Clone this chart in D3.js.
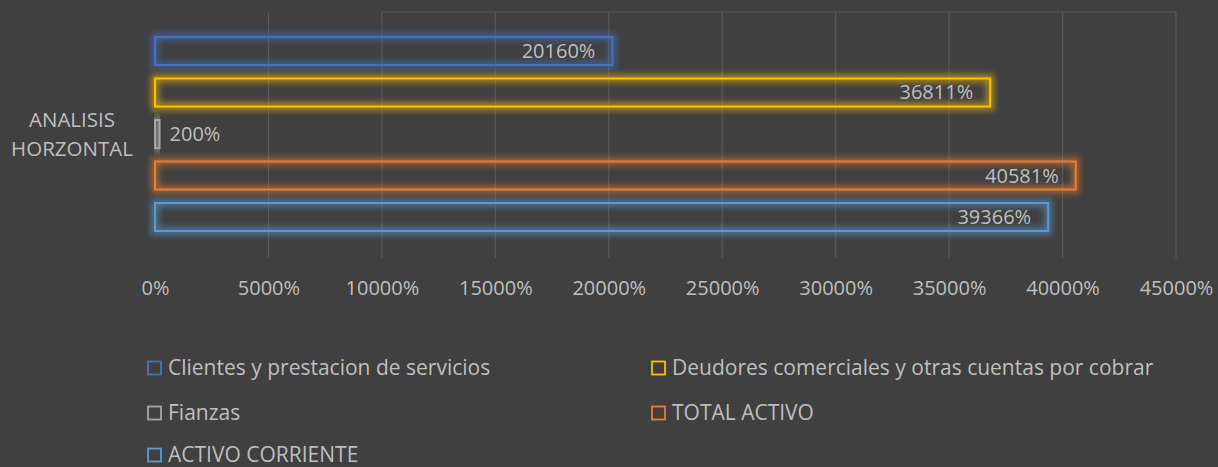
<!DOCTYPE html>
<html lang="es">
<head>
<meta charset="UTF-8">
<title>Analisis horizontal</title>
<script src="https://d3js.org/d3.v7.min.js"></script>
<style>
  html, body { margin: 0; padding: 0; background: #404040; }
  svg { display: block; font-family: "Open Sans", sans-serif; }
</style>
</head>
<body>
<div class="chart"></div>
<script>
// datos (de arriba hacia abajo)
const series = ['Clientes y prestacion de servicios', 'Deudores comerciales y otras cuentas por cobrar',
                'Fianzas', 'TOTAL ACTIVO', 'ACTIVO CORRIENTE']
const values = [20160, 36811, 200, 40581, 39366]
const colors = ['#4472C4', '#FFC000', '#A5A5A5', '#ED7D31', '#5B9BD5']
const categoryLines = ['ANALISIS', 'HORZONTAL']
const xTicks = [0, 5000, 10000, 15000, 20000, 25000, 30000, 35000, 40000, 45000]

const width = 1218, height = 467
const plotLeft = 155, plotRight = 1176, plotTop = 12, plotBottom = 258

const svg = d3.select('.chart').append('svg')
  .attr('width', width)
  .attr('height', height)

svg.append('rect').attr('width', width).attr('height', height).attr('fill', '#404040')

// glow
const defs = svg.append('defs')
defs.append('filter').attr('id', 'glow')
  .attr('x', '-5%').attr('y', '-60%').attr('width', '110%').attr('height', '220%')
  .append('feGaussianBlur').attr('stdDeviation', 3)

const x = d3.scaleLinear().domain([0, 45000]).range([plotLeft, plotRight])
const y = d3.scaleBand().domain(series).range([23.5, 244.5]).padding(0.325)

// grid
svg.append('g')
  .selectAll('line')
  .data(xTicks.slice(1))
  .join('line')
  .attr('x1', d => x(d)).attr('x2', d => x(d))
  .attr('y1', plotTop).attr('y2', plotBottom)
  .attr('stroke', '#595959').attr('stroke-width', 1.2)

svg.append('line')
  .attr('x1', x(10000)).attr('x2', plotRight)
  .attr('y1', plotTop).attr('y2', plotTop)
  .attr('stroke', '#595959').attr('stroke-width', 1.2)

// x axis
const xAxis = d3.axisBottom(x)
  .tickValues(xTicks)
  .tickSize(0)
  .tickPadding(0)
  .tickFormat(d => d + '%')

const xAxisGroup = svg.append('g')
  .attr('transform', `translate(0,${plotBottom + 37})`)
  .call(xAxis)
xAxisGroup.select('.domain').remove()
xAxisGroup.selectAll('text')
  .attr('dy', 0)
  .attr('fill', '#bfbfbf')
  .style('font-size', '20px')
  .style('font-family', '"Open Sans", sans-serif')

// etiqueta de categoria
svg.append('text')
  .attr('text-anchor', 'middle')
  .attr('fill', '#bfbfbf')
  .style('font-size', '20.5px')
  .selectAll('tspan')
  .data(categoryLines)
  .join('tspan')
  .attr('x', 72)
  .attr('y', (d, i) => 127 + i * 29)
  .text(d => d)

// barras
const bars = svg.append('g')
  .selectAll('g')
  .data(series)
  .join('g')

bars.append('rect')
  .attr('x', x(0))
  .attr('y', d => y(d))
  .attr('width', (d, i) => x(values[i]) - x(0))
  .attr('height', y.bandwidth())
  .attr('fill', 'none')
  .attr('stroke', (d, i) => colors[i])
  .attr('stroke-width', 8)
  .attr('opacity', 0.55)
  .attr('filter', 'url(#glow)')

bars.append('rect')
  .attr('x', x(0))
  .attr('y', d => y(d))
  .attr('width', (d, i) => x(values[i]) - x(0))
  .attr('height', y.bandwidth())
  .attr('fill', 'none')
  .attr('stroke', (d, i) => colors[i])
  .attr('stroke-width', 2)

bars.append('text')
  .attr('x', (d, i) => values[i] > 5000 ? x(values[i]) - 17 : x(values[i]) + 10)
  .attr('y', d => y(d) + y.bandwidth() / 2 + 7)
  .attr('text-anchor', (d, i) => values[i] > 5000 ? 'end' : 'start')
  .attr('fill', '#bfbfbf')
  .style('font-size', '20px')
  .text((d, i) => values[i] + '%')

// leyenda
const legend = svg.append('g')
  .selectAll('g')
  .data(series)
  .join('g')
  .attr('transform', (d, i) => `translate(${i % 2 === 0 ? 148 : 652},${[368, 413, 455][Math.floor(i / 2)]})`)

legend.append('rect')
  .attr('x', 0).attr('y', -6.5)
  .attr('width', 13).attr('height', 13)
  .attr('fill', 'none')
  .attr('stroke', (d, i) => colors[i])
  .attr('stroke-width', 1.8)

legend.append('text')
  .attr('x', 20)
  .attr('y', 7)
  .attr('fill', '#bfbfbf')
  .style('font-size', '21px')
  .text(d => d)
</script>
</body>
</html>
